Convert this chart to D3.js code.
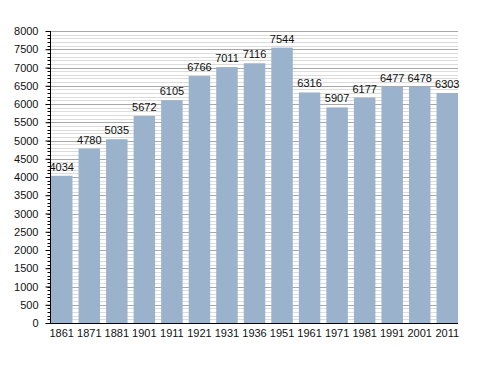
<!DOCTYPE html>
<html>
<head>
<meta charset="utf-8">
<script src="https://cdn.jsdelivr.net/npm/d3@7"></script>
<style>
  body { margin: 0; background: #fff; }
  text { font-family: "Liberation Sans", Arial, sans-serif; fill: #111; }
</style>
</head>
<body>
<div id="chart"></div>
<script>
(function(d3) {
  'use strict';

  var years = ['1861', '1871', '1881', '1901', '1911', '1921', '1931', '1936',
    '1951', '1961', '1971', '1981', '1991', '2001', '2011'];
  var population = [4034, 4780, 5035, 5672, 6105, 6766, 7011, 7116,
    7544, 6316, 5907, 6177, 6477, 6478, 6303];
  var yTicks = [0, 500, 1000, 1500, 2000, 2500, 3000, 3500, 4000,
    4500, 5000, 5500, 6000, 6500, 7000, 7500, 8000];

  var width = 488;
  var height = 373;
  var left = 51, right = 458, top = 31, bottom = 323;

  var svg = d3.select('#chart')
    .append('svg')
    .attr('width', width)
    .attr('height', height);

  var x = d3.scaleBand()
    .domain(years)
    .range([left, right])
    .paddingInner(0.22)
    .paddingOuter(0);

  var y = d3.scaleLinear()
    .domain([0, 8000])
    .range([bottom, top]);

  var minor = d3.range(0, 8001, 100);

  // minor grid
  svg.append('g').selectAll('line')
    .data(minor.filter(function(v) { return v % 500 !== 0; }))
    .enter().append('line')
    .attr('x1', left).attr('x2', right)
    .attr('y1', function(d) { return Math.round(y(d)) + 0.5; })
    .attr('y2', function(d) { return Math.round(y(d)) + 0.5; })
    .attr('stroke', '#dcdcdc')
    .attr('stroke-width', 1);

  // major grid
  svg.append('g').selectAll('line')
    .data(yTicks.slice(1))
    .enter().append('line')
    .attr('x1', left).attr('x2', right)
    .attr('y1', function(d) { return Math.round(y(d)) + 0.5; })
    .attr('y2', function(d) { return Math.round(y(d)) + 0.5; })
    .attr('stroke', '#a8a8a8')
    .attr('stroke-width', 1);

  // bars
  svg.append('g').selectAll('rect')
    .data(population)
    .enter().append('rect')
    .attr('x', function(d, i) { return x(years[i]); })
    .attr('y', function(d) { return y(d); })
    .attr('width', x.bandwidth())
    .attr('height', function(d) { return bottom - y(d); })
    .attr('fill', '#9ab2cb');

  // value labels
  svg.append('g').selectAll('text')
    .data(population)
    .enter().append('text')
    .attr('x', function(d, i) { return x(years[i]) + x.bandwidth() / 2; })
    .attr('y', function(d) { return y(d) - 5; })
    .attr('text-anchor', 'middle')
    .style('font-size', '11px')
    .text(function(d) { return d; });

  // y axis with minor ticks
  var yAxis = svg.append('g')
    .attr('transform', 'translate(' + (left - 0.5) + ',0)');

  yAxis.selectAll('line.minor')
    .data(minor)
    .enter().append('line')
    .attr('class', 'minor')
    .attr('x1', -3).attr('x2', 0)
    .attr('y1', function(d) { return Math.round(y(d)) + 0.5; })
    .attr('y2', function(d) { return Math.round(y(d)) + 0.5; })
    .attr('stroke', '#000');

  yAxis.call(d3.axisLeft(y).tickValues(yTicks).tickFormat(d3.format('d'))
      .tickSize(5).tickPadding(7))
    .call(function(g) {
      g.select('.domain').attr('stroke', '#000').attr('d', 'M0,' + (bottom + 0.5) + 'V' + top);
      g.selectAll('.tick line').attr('stroke', '#000');
      g.selectAll('.tick text').style('font-size', '11px')
        .style('font-family', '"Liberation Sans", Arial, sans-serif').attr('fill', '#111');
    });

  // x axis
  svg.append('g')
    .attr('transform', 'translate(0,' + (bottom + 0.5) + ')')
    .call(d3.axisBottom(x).tickSize(0).tickPadding(6))
    .call(function(g) {
      g.select('.domain').attr('stroke', '#000').attr('d', 'M' + (left - 1) + ',0H' + right);
      g.selectAll('.tick text').style('font-size', '11px')
        .style('font-family', '"Liberation Sans", Arial, sans-serif').attr('fill', '#111');
    });
})(window.d3);
</script>
</body>
</html>
